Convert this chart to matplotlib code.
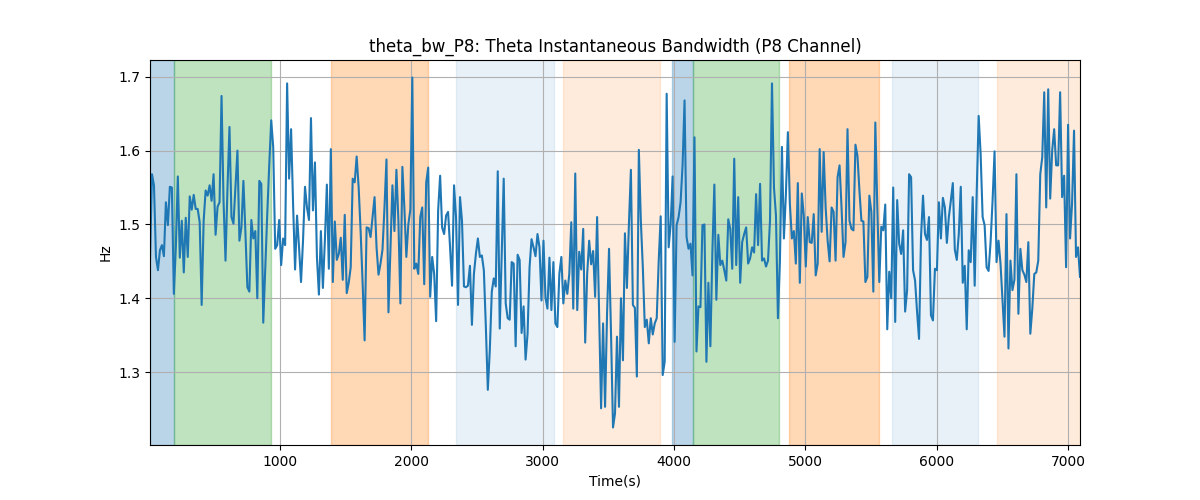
import matplotlib
matplotlib.use("Agg")
import matplotlib.pyplot as plt
import numpy as np

# theta bandwidth, P8 channel (Hz) in time order
bw_values = [
    # ~10 - 1000 s
    1.451, 1.568, 1.553, 1.456, 1.438, 1.465, 1.472, 1.457, 1.530, 1.499,
    1.551, 1.550, 1.406, 1.469, 1.565, 1.455, 1.505, 1.435, 1.509, 1.456,
    1.538, 1.520, 1.540, 1.521, 1.521, 1.503, 1.391, 1.505, 1.546, 1.539,
    1.553, 1.532, 1.568, 1.486, 1.524, 1.530, 1.674, 1.532, 1.451, 1.550, 1.632,
    1.510, 1.501, 1.550, 1.600, 1.478, 1.496, 1.559, 1.490, 1.415, 1.409, 1.506, 1.481,
    1.491, 1.400, 1.559, 1.555, 1.367, 1.440, 1.514, 1.580, 1.641, 1.605, 1.467, 1.472,
    1.506, 1.445,
    # ~1000 - 2000 s
    1.481, 1.472, 1.691, 1.562, 1.629, 1.528, 1.439, 1.512, 1.469, 1.422,
    1.478, 1.551, 1.523, 1.506, 1.644, 1.519, 1.584, 1.456, 1.405, 1.491,
    1.414, 1.478, 1.554, 1.440, 1.602, 1.422, 1.504, 1.452, 1.460, 1.482,
    1.425, 1.513, 1.407, 1.421, 1.442, 1.562, 1.557, 1.592, 1.550, 1.490,
    1.420, 1.343, 1.496, 1.495, 1.483, 1.510, 1.537, 1.469, 1.432, 1.447,
    1.466, 1.523, 1.588, 1.381, 1.469, 1.553, 1.491, 1.574, 1.505, 1.393,
    1.578, 1.523, 1.456, 1.500, 1.520, 1.699, 1.440,
    # ~2000 - 3000 s
    1.447, 1.433, 1.510, 1.523, 1.419, 1.557, 1.577, 1.402, 1.456, 1.433,
    1.369, 1.519, 1.566, 1.496, 1.487, 1.512, 1.517, 1.469, 1.417, 1.553,
    1.510, 1.391, 1.537, 1.505, 1.416, 1.415, 1.417, 1.444, 1.364, 1.433,
    1.460, 1.481, 1.456, 1.458, 1.438, 1.362, 1.276, 1.330, 1.409, 1.427,
    1.416, 1.572, 1.359, 1.460, 1.562, 1.393, 1.373, 1.371, 1.449, 1.447,
    1.335, 1.459, 1.452, 1.353, 1.389, 1.317, 1.352, 1.442, 1.480, 1.469,
    1.457, 1.487, 1.469, 1.397, 1.478, 1.401, 1.386,
    # ~3000 - 4000 s
    1.455, 1.384, 1.449, 1.366, 1.361, 1.433, 1.456, 1.393, 1.424, 1.406,
    1.433, 1.503, 1.386, 1.569, 1.384, 1.463, 1.439, 1.494, 1.340, 1.433,
    1.478, 1.446, 1.464, 1.402, 1.510, 1.384, 1.251, 1.366, 1.253, 1.379,
    1.467, 1.352, 1.225, 1.244, 1.348, 1.253, 1.400, 1.316, 1.488, 1.414,
    1.500, 1.574, 1.391, 1.387, 1.294, 1.601, 1.505, 1.442, 1.361, 1.371,
    1.339, 1.373, 1.351, 1.366, 1.373, 1.451, 1.511, 1.296, 1.314, 1.677,
    1.469, 1.500, 1.565, 1.341, 1.499, 1.510, 1.530, 1.580,
    # ~4000 - 5000 s
    1.668, 1.483, 1.467, 1.474, 1.431, 1.618, 1.328, 1.389, 1.388, 1.499,
    1.500, 1.314, 1.421, 1.335, 1.463, 1.554, 1.398, 1.486, 1.445, 1.451,
    1.438, 1.424, 1.507, 1.494, 1.440, 1.589, 1.445, 1.537, 1.421, 1.476,
    1.487, 1.496, 1.447, 1.454, 1.469, 1.462, 1.541, 1.472, 1.555, 1.451,
    1.454, 1.443, 1.451, 1.505, 1.691, 1.550, 1.512, 1.373, 1.451, 1.605,
    1.481, 1.541, 1.625, 1.528, 1.481, 1.491, 1.447, 1.556, 1.421, 1.542,
    1.512, 1.443, 1.510, 1.476,
    # ~5000 - 6000 s
    1.475, 1.514, 1.431, 1.447, 1.602, 1.490, 1.598, 1.523, 1.478, 1.450,
    1.523, 1.517, 1.451, 1.564, 1.580, 1.523, 1.456, 1.476, 1.629, 1.505,
    1.494, 1.492, 1.608, 1.593, 1.546, 1.505, 1.504, 1.422, 1.429, 1.539,
    1.517, 1.409, 1.638, 1.523, 1.422, 1.497, 1.492, 1.527, 1.358, 1.436,
    1.400, 1.550, 1.368, 1.533, 1.474, 1.460, 1.492, 1.382, 1.411, 1.568,
    1.564, 1.438, 1.424, 1.382, 1.345, 1.483, 1.539, 1.487, 1.479, 1.510,
    1.377, 1.370, 1.440, 1.438, 1.530, 1.481,
    # ~6000 - 7090 s
    1.536, 1.523, 1.475, 1.510, 1.532, 1.556, 1.466, 1.452, 1.487, 1.551,
    1.421, 1.444, 1.358, 1.465, 1.449, 1.537, 1.417, 1.541, 1.647, 1.595,
    1.510, 1.499, 1.442, 1.437, 1.476, 1.532, 1.599, 1.449, 1.478, 1.447,
    1.397, 1.348, 1.514, 1.332, 1.451, 1.411, 1.425, 1.568, 1.379, 1.467,
    1.438, 1.432, 1.422, 1.476, 1.352, 1.386, 1.433, 1.435, 1.451, 1.568,
    1.591, 1.679, 1.523, 1.683, 1.535, 1.600, 1.629, 1.580, 1.580, 1.679,
    1.537, 1.566, 1.442, 1.635, 1.481, 1.528, 1.627, 1.456, 1.469, 1.429,
]
t_start, t_end = 10, 7090

# shaded segments: (start, end, color, alpha)
seg_start = [10, 195, 1388, 2340, 3157, 3985, 4140, 4871, 5660, 6460]
seg_end = [195, 929, 2124, 3086, 3891, 4140, 4797, 5559, 6315, 7090]
seg_color = ['tab:blue', 'tab:green', 'tab:orange', 'tab:blue', 'tab:orange',
             'tab:blue', 'tab:green', 'tab:orange', 'tab:blue', 'tab:orange']
seg_alpha = [0.3, 0.3, 0.3, 0.1, 0.15, 0.3, 0.3, 0.3, 0.1, 0.15]

t = np.linspace(t_start, t_end, len(bw_values))

fig, ax = plt.subplots(figsize=(12, 5), dpi=100)
for s, e, c, a in zip(seg_start, seg_end, seg_color, seg_alpha):
    ax.axvspan(s, e, color=c, alpha=a)
ax.plot(t, bw_values, color='tab:blue', linewidth=1.5)
ax.set_xlim(t[0], t[-1])
ax.grid(True)
ax.set_title('theta_bw_P8: Theta Instantaneous Bandwidth (P8 Channel)')
ax.set_xlabel('Time(s)')
ax.set_ylabel('Hz')
fig.savefig('out.png')
